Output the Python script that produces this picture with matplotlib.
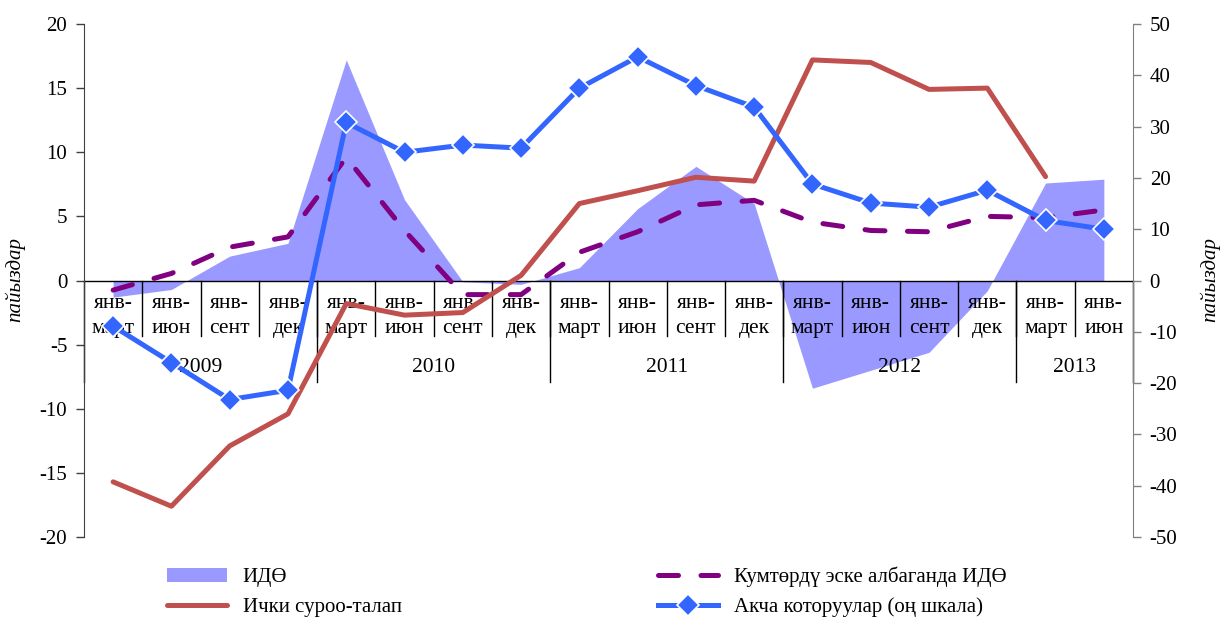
import matplotlib
matplotlib.use("Agg")
import matplotlib.pyplot as plt
import numpy as np

plt.rcParams['font.family'] = ['Liberation Serif', 'DejaVu Serif']
plt.rcParams['axes.unicode_minus'] = False

months = ["янв-\nмарт", "янв-\nиюн", "янв-\nсент", "янв-\nдек"]
cat_labels = months * 4 + months[:2]
years = ["2009", "2010", "2011", "2012", "2013"]
year_counts = [4, 4, 4, 4, 2]

# ИДӨ (area, left scale)
idp = [-1.3, -0.7, 1.9, 2.9, 17.2, 6.3, -0.1, -0.3, 1.0, 5.6,
       8.9, 6.0, -8.4, -7.0, -5.6, -0.8, 7.6, 7.9]
# Кумтөрдү эске албаганда ИДӨ (dashed, left scale)
idp_ex = [-0.75, 0.55, 2.6, 3.4, 9.6, 3.9, -1.1, -1.1, 2.2, 3.8,
          5.9, 6.25, 4.55, 3.9, 3.8, 5.0, 4.9, 5.5]
# Ички суроо-талап (left scale), no value for last quarter
demand = [-15.7, -17.6, -12.9, -10.4, -1.8, -2.7, -2.5, 0.4, 6.0, 7.0,
          8.05, 7.75, 17.2, 17.0, 14.9, 15.0, 8.1, np.nan]
# Акча которуулар (right scale)
remit = [-8.9, -16.0, -23.2, -21.4, 30.8, 25.0, 26.4, 25.8, 37.5, 43.6,
         38.0, 33.8, 18.8, 15.1, 14.3, 17.6, 11.7, 10.0]

x = np.arange(len(cat_labels))

fig = plt.figure(figsize=(12.2, 6.17), dpi=100)
ax = fig.add_axes([84/1220, 1-537/617, (1133-84)/1220, (537-24)/617])
ax2 = ax.twinx()

ax.fill_between(x, idp, 0, color='#9999FF', linewidth=0, zorder=1, label='ИДӨ')
ax.plot(x, idp_ex, color='#800080', lw=3.6, dashes=(4, 4.5), dash_capstyle='round',
        zorder=3, label='Кумтөрдү эске албаганда ИДӨ')
ax.plot(x, demand, color='#C0504D', lw=3.6, solid_capstyle='round', zorder=4,
        label='Ички суроо-талап')
ax2.plot(x, remit, color='#3366FF', lw=3.6, marker='D', markersize=11,
         markeredgecolor='white', markeredgewidth=1.2, zorder=5,
         label='Акча которуулар (оң шкала)')

ax.set_xlim(-0.5, len(x) - 0.5)
ax.set_ylim(-20, 20)
ax.set_yticks(np.arange(-20, 21, 5))
ax2.set_ylim(-50, 50)
ax2.set_yticks(np.arange(-50, 51, 10))

ax.axhline(0, color='black', lw=1, zorder=2)
ax.set_xticks([])
for s in ['top', 'bottom']:
    ax.spines[s].set_visible(False)
    ax2.spines[s].set_visible(False)
ax.spines['right'].set_visible(False)
ax2.spines['left'].set_visible(False)
ax.spines['left'].set_color('#404040')
ax2.spines['right'].set_color('#808080')
ax.tick_params(axis='y', labelsize=15, length=6, width=1, color='#404040', pad=6)
ax2.tick_params(axis='y', labelsize=15, length=6, width=1, color='#808080', pad=6)

# category labels and separators
for i, lab in enumerate(cat_labels):
    ax.text(i, -2.75, lab, ha='center', va='center', fontsize=15.5, linespacing=1.45, zorder=2)
for i in range(1, len(x)):
    ax.plot([i - 0.5, i - 0.5], [0, -4.3], color='black', lw=1, zorder=2)
start = -0.5
for y, n in zip(years, year_counts):
    ax.text(start + n / 2, -6.8, y, ha='center', va='center', fontsize=15.5, zorder=2)
    ax.plot([start, start], [0, -7.95], color='black', lw=1, zorder=2, clip_on=False)
    start += n
ax.plot([start, start], [0, -7.95], color='black', lw=1, zorder=2, clip_on=False)

fig.text(15/1220, 1-280/617, 'пайыздар', rotation=90, style='italic', fontsize=15,
         ha='center', va='center')
fig.text(1210/1220, 1-280/617, 'пайыздар', rotation=90, style='italic', fontsize=15,
         ha='center', va='center')

h1, l1 = ax.get_legend_handles_labels()
h2, l2 = ax2.get_legend_handles_labels()
hd = dict(zip(l1 + l2, h1 + h2))
order = ['ИДӨ', 'Ички суроо-талап', 'Кумтөрдү эске албаганда ИДӨ', 'Акча которуулар (оң шкала)']
fig.legend([hd[k] for k in order], order, ncol=2, loc='upper left',
           bbox_to_anchor=(150/1220, 1-550/617), frameon=False, fontsize=15,
           handlelength=2.9, handletextpad=0.75, columnspacing=12.3, labelspacing=0.5,
           borderpad=0.3)

fig.savefig('out.png', dpi=100)
